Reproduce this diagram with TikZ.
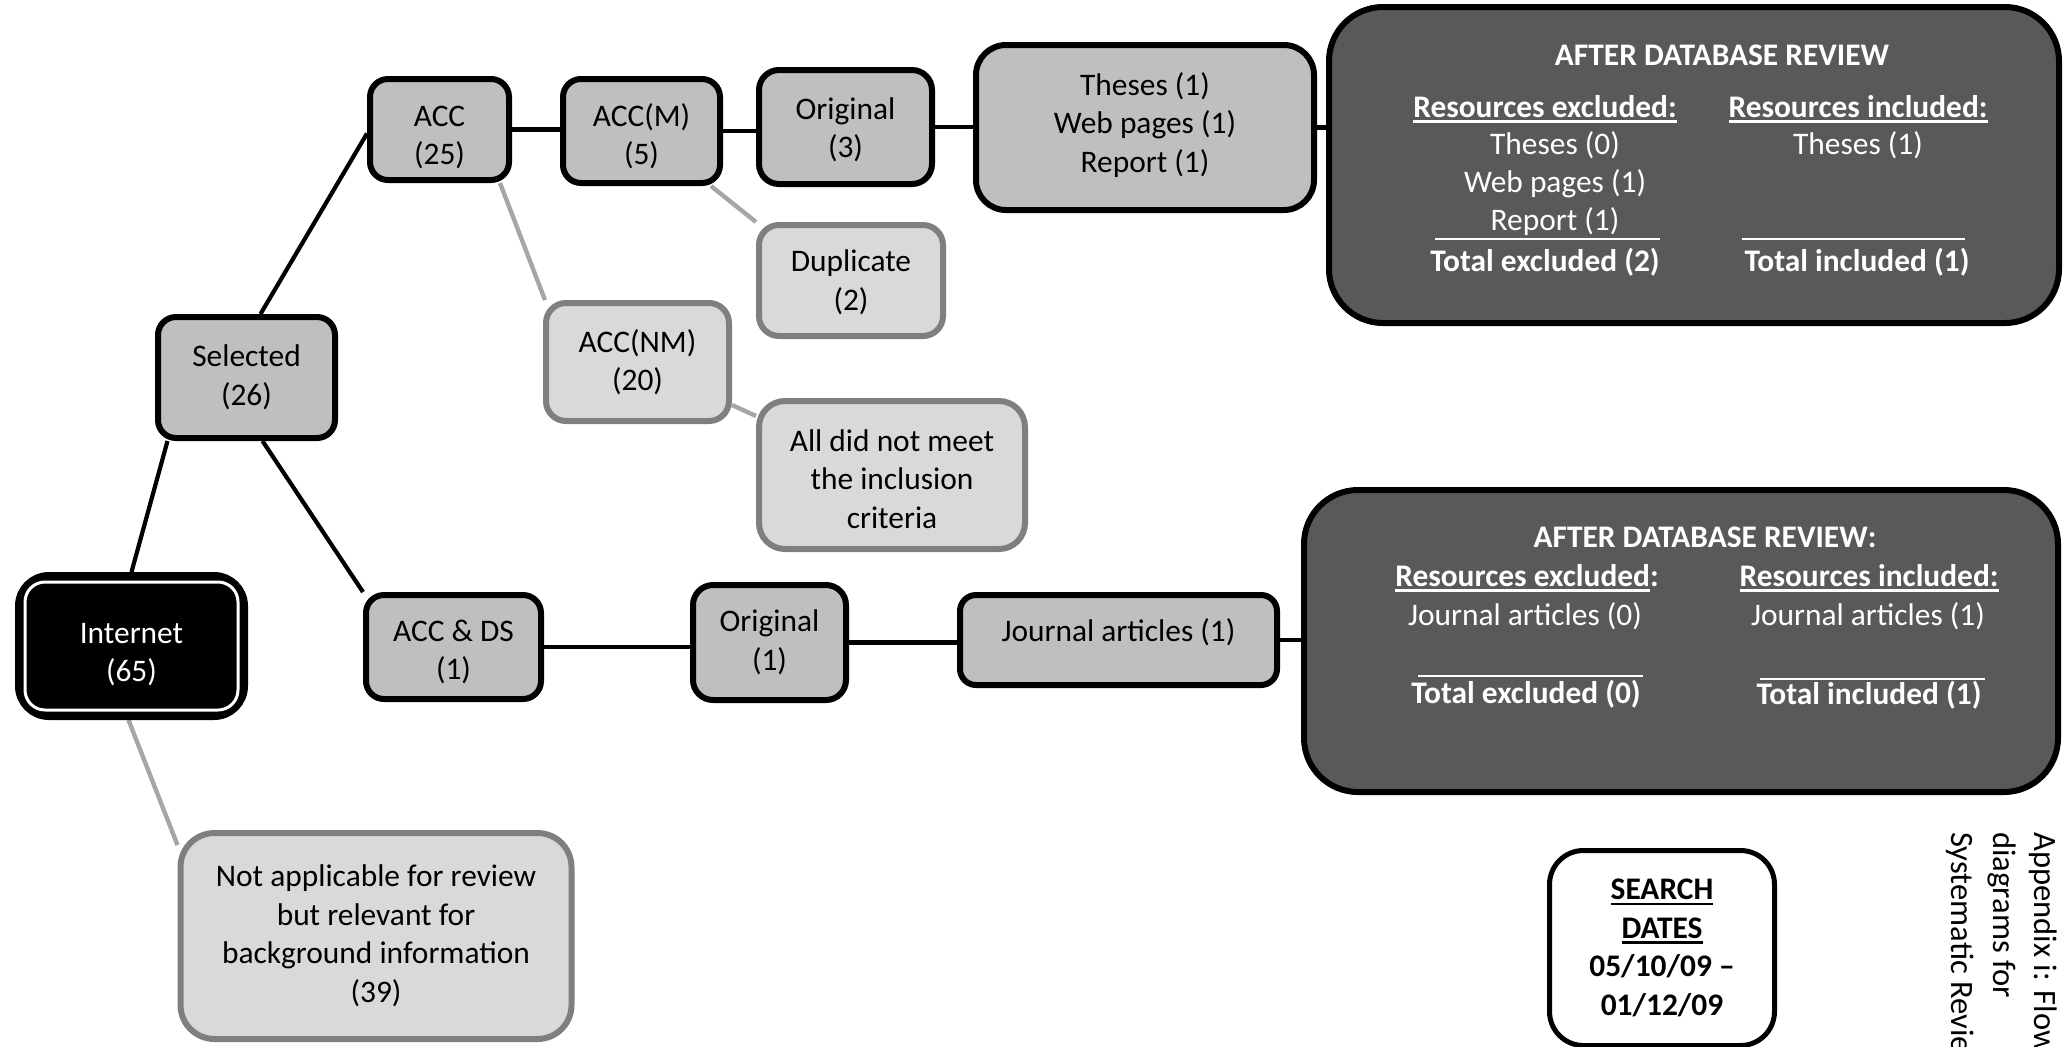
\documentclass[tikz,border=0pt]{standalone}
\usepackage{fontspec}
\setmainfont{Carlito}
\usetikzlibrary{calc}

\definecolor{boxgray}{HTML}{BFBFBF}
\definecolor{lightfill}{HTML}{D9D9D9}
\definecolor{lightedge}{HTML}{7F7F7F}
\definecolor{lightlink}{HTML}{A6A6A6}
\definecolor{darkfill}{HTML}{595959}

\pgfdeclarelayer{bg}
\pgfsetlayers{bg,main}

% underline with a heavier rule than \underline gives
\newsavebox\ulbox
\newcommand\ulx[1]{\leavevmode\sbox\ulbox{#1}\rlap{\rule[-2.6pt]{\wd\ulbox}{1.1pt}}\usebox\ulbox}

\tikzset{
  x=0.5pt, y=-0.5pt,
  txt/.style={font=\fontsize{15.7}{19.25}\selectfont, align=center, inner sep=0pt},
  wtxt/.style={txt, text=white},
  % box text set a little off the box centre
  intext/.style 2 args={label={[txt, yshift=#1]center:{#2}}},
  mainbox/.style={txt, draw=black, fill=boxgray, line width=3pt, rounded corners=#1},
  mainbox/.default=9pt,
  sidebox/.style={txt, draw=lightedge, fill=lightfill, line width=3pt, rounded corners=#1},
  sidebox/.default=10pt,
  darkbox/.style={draw=black, fill=darkfill, line width=3pt, rounded corners=27pt},
  link/.style={draw=black, line width=2.1pt},
  graylink/.style={draw=lightlink, line width=2.2pt},
  rulesep/.style={draw=white, line width=0.85pt},
}

\begin{document}
\begin{tikzpicture}
\useasboundingbox (0,0) rectangle (2063,1046);
\clip (0,0) rectangle (2063,1046);

% ---- left branch ----
\node[txt, fill=black, draw=black, line width=4pt, rounded corners=15pt,
      minimum width=112.5pt, minimum height=70pt,
      label={[wtxt, yshift=-4.2pt]center:{Internet\\(65)}}] (internet) at (131.5,646) {};
\draw[white, line width=1.5pt, rounded corners=10pt]
  ($(internet.south west)+(10,-10)$) rectangle ($(internet.north east)+(-10,10)$);

\node[mainbox, minimum width=88.5pt, minimum height=60.5pt] (selected) at (246.5,377.5) {Selected\\(26)};

\node[sidebox=17pt, minimum width=195.5pt, minimum height=103pt] (notapp) at (376,936)
  {Not applicable for review\\but relevant for\\background information\\(39)};

% ---- upper chain ----
\node[mainbox, minimum width=69.5pt, minimum height=50.5pt,
      intext={-4pt}{ACC\\(25)}] (acc) at (439.5,129.5) {};
\node[mainbox, minimum width=78.5pt, minimum height=52pt,
      intext={-2.5pt}{ACC(M)\\(5)}] (accm) at (641.5,131) {};
\node[mainbox=10pt, minimum width=86.5pt, minimum height=57pt,
      intext={-1.5pt}{Original\\(3)}] (orig3) at (845.5,127) {};
\node[mainbox=15pt, minimum width=169pt, minimum height=82.5pt,
      intext={1.3pt}{Theses (1)\\Web pages (1)\\Report (1)}] (theses) at (1145,127.5) {};

\node[sidebox, minimum width=92pt, minimum height=55.5pt,
      intext={-1pt}{Duplicate\\(2)}] (dup) at (851,280.5) {};
\node[sidebox, minimum width=91.5pt, minimum height=59pt] (accnm) at (637.5,362) {ACC(NM)\\(20)};
\node[sidebox=13pt, minimum width=133pt, minimum height=74pt,
      intext={-2pt}{All did not meet\\the inclusion\\criteria}] (alln) at (892,475) {};

% ---- lower chain ----
\node[mainbox, minimum width=87.5pt, minimum height=52pt,
      intext={-2.5pt}{ACC \& DS\\(1)}] (accds) at (453.5,647) {};
\node[mainbox=10pt, minimum width=76.5pt, minimum height=57.5pt] (orig1) at (769.5,642.5) {Original\\(1)};
\node[mainbox=8pt, minimum width=158.5pt, minimum height=45pt,
      intext={4pt}{Journal articles (1)}] (journal) at (1118.5,640) {};

% ---- review summary, upper ----
\node[darkbox, minimum width=365pt, minimum height=158pt] (box1) at (1694,165) {};
\node[wtxt] (b1title) at (1722,55) {\bfseries AFTER DATABASE REVIEW};
\node[wtxt] (b1exh) at (1545,109) {\bfseries\ulx{Resources excluded:}};
\node[wtxt] (b1inh) at (1858,109) {\bfseries\ulx{Resources included:}};
\node[wtxt] (b1ex1) at (1555,145) {Theses (0)};
\node[wtxt] (b1ex2) at (1555,184) {Web pages (1)};
\node[wtxt] (b1ex3) at (1555,222) {Report (1)};
\node[wtxt] (b1in1) at (1858,145) {Theses (1)};
\node[wtxt] (b1ext) at (1545,262) {\bfseries Total excluded (2)};
\node[wtxt] (b1int) at (1857,262) {\bfseries Total included (1)};
\draw[rulesep] (1435,239) -- (1660,239);
\draw[rulesep] (1742,239) -- (1965,239);

% ---- review summary, lower ----
\node[darkbox, minimum width=377pt, minimum height=151pt] (box2) at (1681,641) {};
\node[wtxt] (b2title) at (1705,537) {\bfseries AFTER DATABASE REVIEW:};
\node[wtxt] (b2exh) at (1527,578) {\bfseries\ulx{Resources excluded}:};
\node[wtxt] (b2inh) at (1869,578) {\bfseries\ulx{Resources included:}};
\node[wtxt] (b2ex1) at (1525,616) {Journal articles (0)};
\node[wtxt] (b2in1) at (1868,616) {Journal articles (1)};
\node[wtxt] (b2ext) at (1526,694) {\bfseries Total excluded (0)};
\node[wtxt] (b2int) at (1869,695) {\bfseries Total included (1)};
\draw[rulesep] (1418,676) -- (1643,676);
\draw[rulesep] (1760,679) -- (1985,679);

% ---- search dates ----
\node[txt, font=\fontsize{15.7}{19.25}\selectfont\bfseries, draw=black, fill=white, line width=2.5pt,
      rounded corners=17pt, minimum width=112.5pt, minimum height=97.5pt] (dates) at (1662,948)
  {\ulx{SEARCH}\\\ulx{DATES}\\05/10/09 --\\01/12/09};

% ---- side caption ----
\node[txt, font=\fontsize{16.3}{20.8}\selectfont, align=left, rotate=-90, anchor=north west]
  (caption) at (2058,832) {Appendix i: Flow\\diagrams for\\Systematic Review};

% ---- connectors ----
\begin{pgfonlayer}{bg}
  \draw[link] (internet.north) -- ($(selected.south)+(-79,0)$);
  \draw[link] ($(selected.north)+(14,0)$) -- ($(acc.west)+(0,4)$);
  \draw[link] ($(selected.south)+(16,0)$) -- (accds.north west);
  \draw[link] (acc.east) -- (acc.east -| accm.west);
  \draw[link] (accm.east) -- (accm.east -| orig3.west);
  \draw[link] (orig3.east) -- (orig3.east -| theses.west);
  \draw[link] (theses.east) -- (theses.east -| box1.west);
  \draw[link] (accds.east) -- (accds.east -| orig1.west);
  \draw[link] (orig1.east) -- (orig1.east -| journal.west);
  \draw[link] (journal.east) -- (journal.east -| box2.west);
  \draw[graylink] ($(acc.south east)+(-12,0)$) -- ($(accnm.north west)+(2,0)$);
  \draw[graylink] ($(accm.south east)+(-12,0)$) -- (dup.north west);
  \draw[graylink] ($(accnm.east)+(0,43)$) -- ($(alln.west)+(0,-59)$);
  \draw[graylink] ($(internet.south)+(-3,0)$) -- ($(notapp.north west)+(0,15)$);
\end{pgfonlayer}
\end{tikzpicture}
\end{document}
